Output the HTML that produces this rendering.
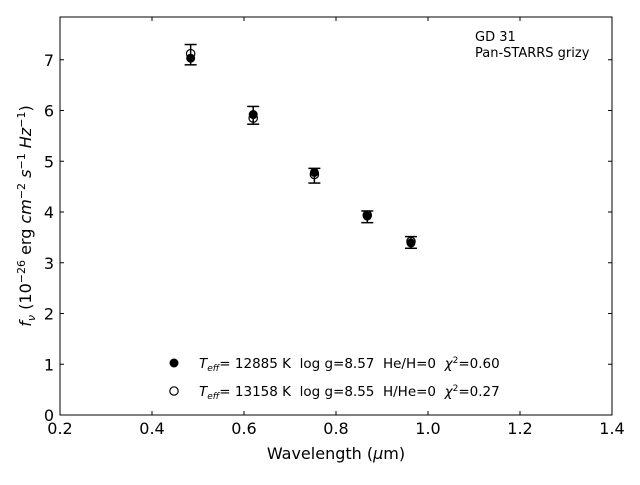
<!DOCTYPE html>
<html><head><meta charset="utf-8"><style>
body{margin:0;background:#fff;}
svg text{font-family:"DejaVu Sans","Liberation Sans",sans-serif;white-space:pre;}
</style></head><body>
<svg id="chart" width="640" height="480" viewBox="0 0 640 480" xmlns="http://www.w3.org/2000/svg" xml:space="preserve">
<rect x="0" y="0" width="640" height="480" fill="#fff"/>
<g id="marks"></g>
<g id="axes"></g>
<rect x="60" y="17" width="552" height="398" fill="none" stroke="#000" stroke-width="1"/>
<text x="475" y="41" font-size="13">GD 31</text>
<text x="475" y="57" font-size="13">Pan-STARRS grizy</text>
<text x="336" y="459" font-size="16" text-anchor="middle">Wavelength (<tspan font-style="italic">μ</tspan>m)</text>
<text transform="translate(31,216) rotate(-90)" font-size="16" text-anchor="middle"><tspan font-style="italic">f</tspan><tspan font-style="italic" font-size="11" dy="4">ν</tspan><tspan dy="-4"> (10</tspan><tspan font-size="11" dy="-6">−26</tspan><tspan dy="6"> erg </tspan><tspan font-style="italic">cm</tspan><tspan font-size="11" dy="-6">−2</tspan><tspan dy="6"> </tspan><tspan font-style="italic">s</tspan><tspan font-size="11" dy="-6">−1</tspan><tspan dy="6"> </tspan><tspan font-style="italic">Hz</tspan><tspan font-size="11" dy="-6">−1</tspan><tspan dy="6">)</tspan></text>
<g>
<circle cx="174" cy="363" r="4.5" fill="#000"/>
<text x="199" y="368" font-size="13.5"><tspan font-style="italic">T</tspan><tspan font-style="italic" font-size="9" dy="3">eff</tspan><tspan dy="-3">= 12885 K  log g=8.57  He/H=0  </tspan><tspan font-style="italic">χ</tspan><tspan font-size="9" dy="-5">2</tspan><tspan dy="5">=0.60</tspan></text>
<circle cx="174" cy="391" r="4.2" fill="#fff" stroke="#000" stroke-width="1.2"/>
<text x="199" y="396" font-size="13.5"><tspan font-style="italic">T</tspan><tspan font-style="italic" font-size="9" dy="3">eff</tspan><tspan dy="-3">= 13158 K  log g=8.55  H/He=0  </tspan><tspan font-style="italic">χ</tspan><tspan font-size="9" dy="-5">2</tspan><tspan dy="5">=0.27</tspan></text>
</g>
</svg>
<script>
const wavelengths = [0.484, 0.620, 0.753, 0.868, 0.963];
const obsFlux = [7.10, 5.905, 4.715, 3.905, 3.40];
const obsErr = [0.20, 0.175, 0.145, 0.115, 0.115];
const modelH = [7.03, 5.92, 4.78, 3.92, 3.39];
const modelHe = [7.12, 5.85, 4.74, 3.94, 3.42];
const xTicks = [0.2, 0.4, 0.6, 0.8, 1.0, 1.2, 1.4];
const xTickLabels = ["0.2","0.4","0.6","0.8","1.0","1.2","1.4"];
const yTicks = [0, 1, 2, 3, 4, 5, 6, 7];
const yTickLabels = ["0","1","2","3","4","5","6","7"];

const NS = "http://www.w3.org/2000/svg";
function xs(v){ return 60 + (v - 0.2) / 1.2 * 552; }
function ys(v){ return 415 - v * 50.75; }
function mk(tag, attrs, parent){
  const e = document.createElementNS(NS, tag);
  for (const k in attrs) e.setAttribute(k, attrs[k]);
  parent.appendChild(e); return e;
}
const axes = document.getElementById('axes');
const marks = document.getElementById('marks');
xTicks.forEach((t, i) => {
  const x = xs(t);
  let l = mk('line', {x1:x, x2:x, y1:415, y2:411, stroke:'#000'}, axes);
  
  
  l = mk('line', {x1:x, x2:x, y1:17, y2:21, stroke:'#000'}, axes);
  
  
  const tx = mk('text', {x:x, y:434, 'font-size':16, 'text-anchor':'middle'}, axes);
  tx.textContent = xTickLabels[i];
  
  
});
yTicks.forEach((t, i) => {
  const y = ys(t);
  let l = mk('line', {x1:60, x2:64, y1:y, y2:y, stroke:'#000'}, axes);
  
  
  l = mk('line', {x1:608, x2:612, y1:y, y2:y, stroke:'#000'}, axes);
  
  
  const tx = mk('text', {x:54, y:y+6, 'font-size':16, 'text-anchor':'end'}, axes);
  tx.textContent = yTickLabels[i];
  
  
});
wavelengths.forEach((w, i) => {
  const x = xs(w);
  const g = mk('g', {}, marks);
  
  
  const yt = ys(obsFlux[i] + obsErr[i]), yb = ys(obsFlux[i] - obsErr[i]);
  mk('line', {x1:x, x2:x, y1:yt, y2:yb, stroke:'#000', 'stroke-width':1.5}, g);
  mk('line', {x1:x-6, x2:x+6, y1:yt, y2:yt, stroke:'#000', 'stroke-width':1.5}, g);
  mk('line', {x1:x-6, x2:x+6, y1:yb, y2:yb, stroke:'#000', 'stroke-width':1.5}, g);
  const c1 = mk('circle', {cx:x, cy:ys(modelH[i]), r:4.5, fill:'#000'}, marks);
  
  
  const c2 = mk('circle', {cx:x, cy:ys(modelHe[i]), r:4.2, fill:'none', stroke:'#000', 'stroke-width':1.2}, marks);
  
  
});
</script>
</body></html>
